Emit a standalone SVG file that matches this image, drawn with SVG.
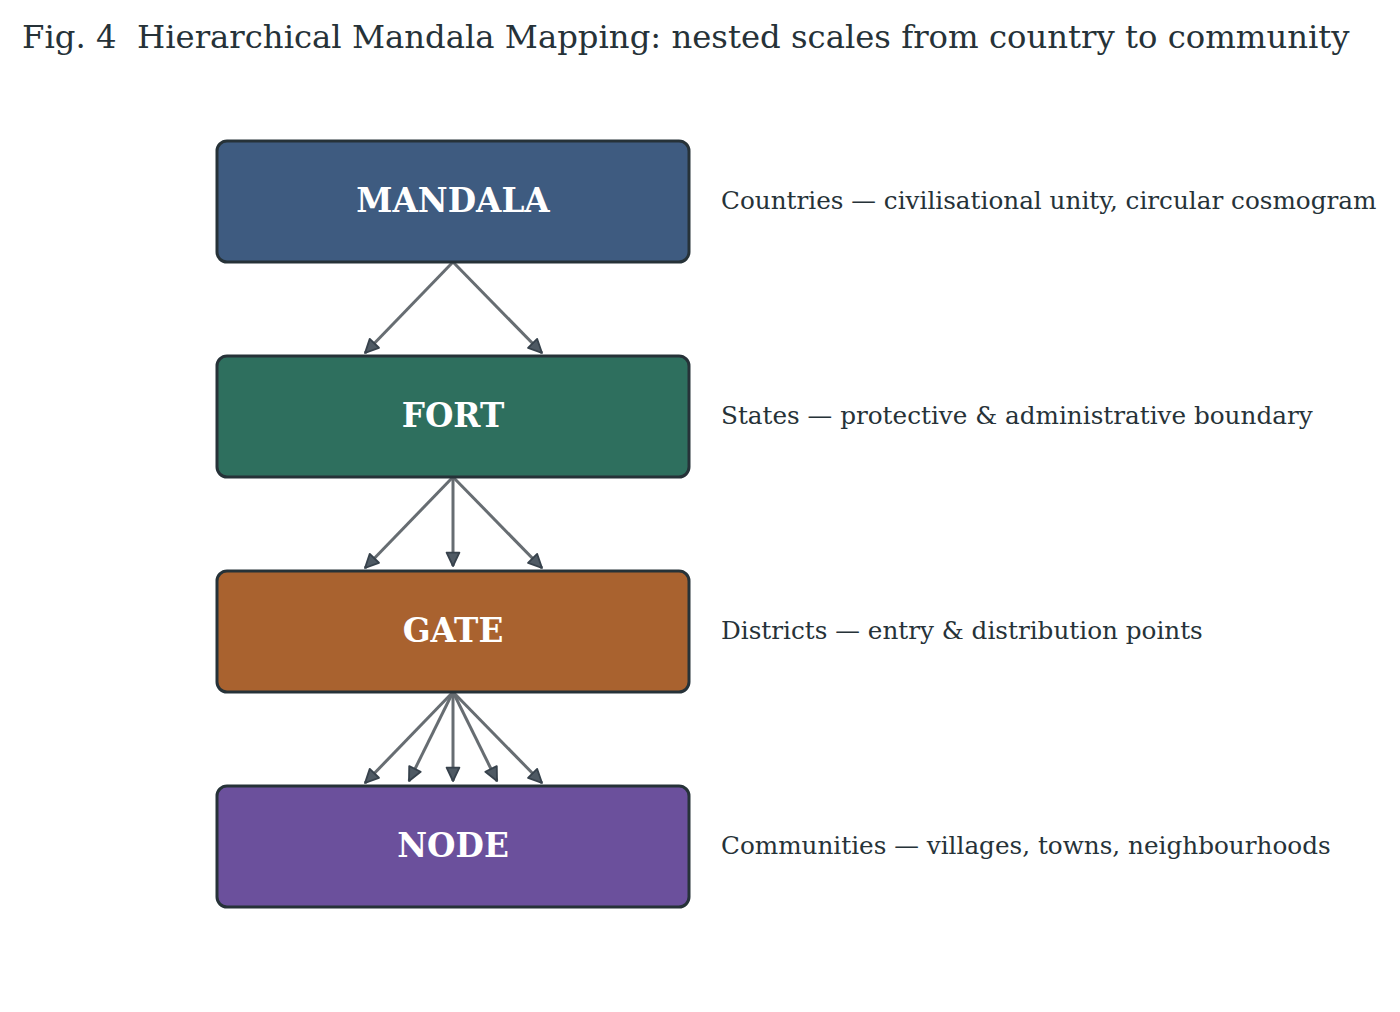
<svg xmlns="http://www.w3.org/2000/svg" width="1400" height="1012" viewBox="0 0 1400 1012">
<style>
.title{font-family:"DejaVu Serif",serif;font-size:32.3px;fill:#263238;white-space:pre}
.box{stroke:#263238;stroke-width:3}
.lbl{font-family:"DejaVu Serif",serif;font-size:32.7px;font-weight:bold;fill:#ffffff;text-anchor:middle}
.desc{font-family:"DejaVu Serif",serif;font-size:24.7px;fill:#263238}
.edge{stroke:#676d72;stroke-width:3;fill:none;marker-end:url(#ah)}
</style>
<defs>
<marker id="ah" viewBox="0 0 10 10" refX="9" refY="5" markerWidth="5.6" markerHeight="5.6" orient="auto" markerUnits="strokeWidth">
<path d="M1,1.2 L9,5 L1,8.8 Z" fill="#4f5a64" stroke="#37424c" stroke-width="1.1" stroke-linejoin="round"/>
</marker>
</defs>
<rect width="1400" height="1012" fill="#ffffff"/>
<text class="title" x="22" y="48" xml:space="preserve">Fig. 4  Hierarchical Mandala Mapping: nested scales from country to community</text>
<g id="connectors">
<line class="edge" x1="453" y1="262" x2="365" y2="353"/>
<line class="edge" x1="453" y1="262" x2="542" y2="353"/>
<line class="edge" x1="453" y1="477" x2="365" y2="568"/>
<line class="edge" x1="453" y1="477" x2="453" y2="566"/>
<line class="edge" x1="453" y1="477" x2="542" y2="568"/>
<line class="edge" x1="453" y1="692" x2="365" y2="783"/>
<line class="edge" x1="453" y1="692" x2="409" y2="781"/>
<line class="edge" x1="453" y1="692" x2="453" y2="781"/>
<line class="edge" x1="453" y1="692" x2="497" y2="781"/>
<line class="edge" x1="453" y1="692" x2="542" y2="783"/>
</g>
<g id="mandala">
<rect class="box" x="217" y="141" width="472" height="121" rx="10" fill="#3e5b80"/>
<text class="lbl" x="453" y="212">MANDALA</text>
<text class="desc" x="721" y="209">Countries — civilisational unity, circular cosmogram</text>
</g>
<g id="fort">
<rect class="box" x="217" y="356" width="472" height="121" rx="10" fill="#2e6f5e"/>
<text class="lbl" x="453" y="427">FORT</text>
<text class="desc" x="721" y="424">States — protective &amp; administrative boundary</text>
</g>
<g id="gate">
<rect class="box" x="217" y="571" width="472" height="121" rx="10" fill="#a9622f"/>
<text class="lbl" x="453" y="642">GATE</text>
<text class="desc" x="721" y="639">Districts — entry &amp; distribution points</text>
</g>
<g id="node">
<rect class="box" x="217" y="786" width="472" height="121" rx="10" fill="#6b509c"/>
<text class="lbl" x="453" y="857">NODE</text>
<text class="desc" x="721" y="854">Communities — villages, towns, neighbourhoods</text>
</g>
</svg>
